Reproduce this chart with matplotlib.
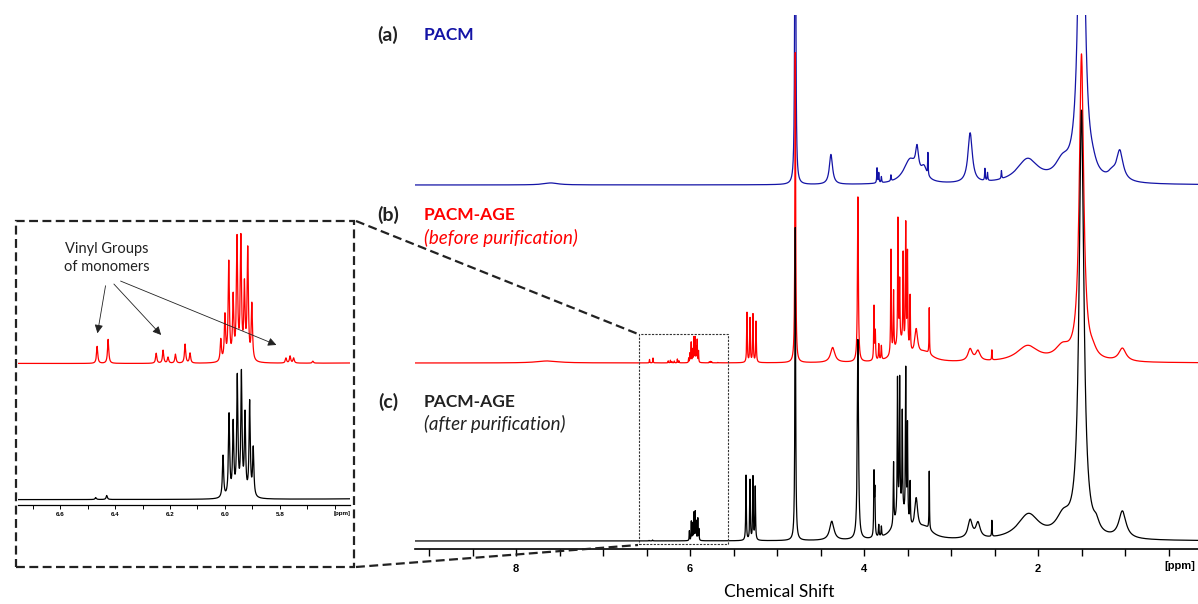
import numpy as np
import matplotlib
matplotlib.use("Agg")
import matplotlib.pyplot as plt
from matplotlib.lines import Line2D
from matplotlib.patches import Rectangle, FancyArrowPatch

W, H = 1198, 604

# ---- peak tables: ppm, height (px above baseline), half width (ppm)
# (a) PACM
A_PPM = [7.60, 4.79, 4.38, 3.85, 3.83, 3.80, 3.69, 3.47, 3.39, 3.31, 3.265, 2.78, 2.61, 2.58, 2.42,
         2.12, 1.72, 1.50, 1.37, 1.15, 1.06]
A_H = [2, 600, 30, 15, 10, 6, 6, 24, 24, 12, 22, 50, 12, 8, 8, 24, 17, 480, 6, 6, 30]
A_W = [0.10, 0.005, 0.022, 0.004, 0.004, 0.004, 0.004, 0.09, 0.02, 0.04, 0.003, 0.03, 0.004, 0.004, 0.004,
       0.15, 0.10, 0.034, 0.05, 0.05, 0.045]

# (b) PACM-AGE before purification (vinyl region comes from the inset table below)
B_PPM = [7.64, 5.345, 5.31, 5.276, 5.241, 4.79, 4.36, 4.07, 3.885, 3.87, 3.83, 3.80,
         3.69, 3.66, 3.61, 3.59, 3.55, 3.52, 3.50, 3.47, 3.58, 3.40, 3.25, 3.30,
         2.78, 2.69, 2.53, 2.12, 1.72, 1.50, 1.37, 1.03]
B_H = [2, 50, 44, 48, 41, 310, 15, 165, 54, 28, 16, 14,
       105, 60, 125, 60, 90, 122, 95, 55, 18, 26, 46, 9,
       12, 10, 10, 16, 13, 305, 6, 13]
B_W = [0.15, 0.004, 0.004, 0.004, 0.004, 0.005, 0.03, 0.006, 0.004, 0.004, 0.004, 0.004,
       0.004, 0.004, 0.004, 0.004, 0.004, 0.004, 0.004, 0.004, 0.08, 0.02, 0.003, 0.10,
       0.03, 0.03, 0.003, 0.15, 0.10, 0.03, 0.05, 0.05]

# (c) PACM-AGE after purification
C_PPM = [5.356, 5.31, 5.276, 5.25, 4.79, 4.37, 4.07, 3.885, 3.875, 3.83, 3.80,
         3.66, 3.615, 3.59, 3.56, 3.52, 3.50, 3.47, 3.58, 3.40, 3.25, 3.30,
         2.78, 2.69, 2.53, 2.11, 1.71, 1.50, 1.33, 1.03]
C_H = [65, 60, 63, 53, 313, 19, 200, 62, 44, 12, 10,
       62, 135, 130, 98, 148, 95, 42, 28, 32, 58, 11,
       18, 15, 16, 25, 19, 425, 9, 27]
C_W = [0.004, 0.004, 0.004, 0.004, 0.005, 0.03, 0.008, 0.004, 0.004, 0.004, 0.004,
       0.004, 0.004, 0.004, 0.004, 0.004, 0.004, 0.004, 0.08, 0.02, 0.003, 0.10,
       0.03, 0.03, 0.003, 0.15, 0.10, 0.033, 0.04, 0.05]

# vinyl region 6.7-5.5 ppm, heights as read in the inset (px)
VB_PPM = [6.465, 6.425, 6.25, 6.225, 6.207, 6.18, 6.145, 6.127, 6.015, 6.0, 5.986, 5.97,
          5.956, 5.942, 5.929, 5.917, 5.902, 5.778, 5.763, 5.75, 5.68]
VB_H = [17, 24, 10, 13, 6, 9, 19, 10, 22, 45, 98, 62, 120, 120, 72, 110, 56, 5, 7, 5, 2]
VC_PPM = [6.47, 6.43, 6.007, 5.985, 5.97, 5.955, 5.94, 5.927, 5.91, 5.897]
VC_H = [2, 4, 42, 82, 72, 118, 121, 80, 94, 48]
V_W = 0.0027
GAIN_B, GAIN_C = 4.9, 4.3   # inset magnification of each trace

MAIN_TICKS = [8, 6, 4, 2]
INSET_TICKS = [6.6, 6.4, 6.2, 6.0, 5.8]


def spectrum(x, ppm, h, w):
    y = np.zeros_like(x)
    ws = w if np.ndim(w) else [w] * len(ppm)
    for p, a, s in zip(ppm, h, ws):
        y += a / (1 + ((x - p) / s) ** 2)
    return y


def fx(x):
    return x / W


def fy(y):
    return 1 - y / H


plt.rcParams['font.family'] = ['Lato', 'DejaVu Sans']
fig = plt.figure(figsize=(W / 100, H / 100), dpi=100)

# ---------------- main spectrum stack
ax_top, ax_bot, ax_l = 15, 549, 415
ax = fig.add_axes([fx(ax_l), fy(ax_bot), fx(W - ax_l), (ax_bot - ax_top) / H])
x = np.arange(0.10, 9.20, 0.0004)
sa = spectrum(x, A_PPM, A_H, A_W)
sb = spectrum(x, B_PPM, B_H, B_W) + spectrum(x, VB_PPM, np.array(VB_H) / GAIN_B, V_W)
sc = spectrum(x, C_PPM, C_H, C_W) + spectrum(x, VC_PPM, np.array(VC_H) / GAIN_C, V_W)
ax.plot(x, sa + (ax_bot - 185), color="#1414a6", lw=0.9, zorder=2)
ax.plot(x, sb + (ax_bot - 363), color="#ff0000", lw=0.9, zorder=3)
ax.plot(x, sc + (ax_bot - 541), color="black", lw=0.9, zorder=4)
ax.set_xlim(9.161, 0.161)
ax.set_ylim(0, ax_bot - ax_top)
for s in ["top", "left", "right"]:
    ax.spines[s].set_visible(False)
ax.spines["bottom"].set_linewidth(1.2)
ax.set_yticks([])
ax.set_xticks(MAIN_TICKS)
ax.set_xticks(np.arange(0.5, 9.1, 0.5), minor=True)
ax.tick_params(axis="x", which="both", direction="out", length=5, width=1, pad=6)
ax.set_xticklabels([str(t) for t in MAIN_TICKS], fontsize=8, fontweight="bold",
                   family="Liberation Sans")
fig.text(fx(1180), fy(566), "[ppm]", fontsize=8, fontweight="bold", family="Liberation Sans",
         ha="center", va="center")
fig.text(fx(779), fy(592), "Chemical Shift", fontsize=12.5, ha="center", va="center")

# zoom window on the main plot
ax.add_patch(Rectangle((6.59, ax_bot - 544), 5.56 - 6.59, 544 - 334, fill=False,
                       ec="#333333", lw=0.8, ls=(0, (2, 1.2)), zorder=5))

# trace labels
bold = dict(fontsize=12.5, va="center", fontweight="bold")
paren = dict(fontsize=14, va="center", fontweight="bold", ha="center", color="#222222")
ital = dict(fontsize=13.5, va="center", style="italic")
fig.text(fx(388), fy(35), "(a)", **paren)
fig.text(fx(424), fy(35), "PACM", color="#1414a6", **bold)
fig.text(fx(388), fy(215), "(b)", **paren)
fig.text(fx(424), fy(215), "PACM-AGE", color="#ff0000", **bold)
fig.text(fx(424), fy(238), "(before purification)", color="#ff0000", **ital)
fig.text(fx(388), fy(402), "(c)", **paren)
fig.text(fx(424), fy(402), "PACM-AGE", color="#222222", **bold)
fig.text(fx(424), fy(424), "(after purification)", color="#222222", **ital)

# ---------------- inset (vinyl region)
in_top, in_bot, in_l, in_r = 225, 505, 18, 350
axi = fig.add_axes([fx(in_l), fy(in_bot), fx(in_r - in_l), (in_bot - in_top) / H])
xi = np.arange(5.50, 6.80, 0.0001)
ib = spectrum(xi, VB_PPM, VB_H, V_W) + spectrum(xi, B_PPM, np.array(B_H) * GAIN_B, B_W)
ic = spectrum(xi, VC_PPM, VC_H, V_W) + spectrum(xi, C_PPM, np.array(C_H) * GAIN_C, C_W)
axi.plot(xi, ib + (in_bot - 364), color="#ff0000", lw=0.9)
axi.plot(xi, ic + (in_bot - 500), color="black", lw=0.9)
axi.set_xlim(6.753, 5.545)
axi.set_ylim(0, in_bot - in_top)
for s in ["top", "left", "right"]:
    axi.spines[s].set_visible(False)
axi.spines["bottom"].set_linewidth(0.9)
axi.set_yticks([])
axi.set_xticks(INSET_TICKS)
axi.set_xticks(np.arange(5.6, 6.75, 0.1), minor=True)
axi.tick_params(axis="x", which="both", direction="out", length=3, width=0.7, pad=2)
axi.set_xticklabels(["%.1f" % t for t in INSET_TICKS], fontsize=4.5, fontweight="bold",
                    family="Liberation Sans")
fig.text(fx(342), fy(513), "[ppm]", fontsize=4.5, fontweight="bold", family="Liberation Sans",
         ha="center", va="center")
axi.patch.set_alpha(0)

fig.text(fx(107), fy(258), "Vinyl Groups\nof monomers", fontsize=10.5, ha="center", va="center",
         linespacing=1.35, color="#222222")
for (x0, y0), (x1, y1) in [((106, 283), (97, 336)), ((112, 282), (163, 337)),
                           ((118, 280), (279, 346))]:
    fig.add_artist(FancyArrowPatch(
        (fx(x0), fy(y0)), (fx(x1), fy(y1)), transform=fig.transFigure,
        arrowstyle="-|>,head_length=5,head_width=2.5", lw=0.6, color="#222222"))

# dashed frame around inset and connector lines
fig.add_artist(Rectangle((fx(16), fy(567)), fx(354 - 16), (567 - 221) / H, fill=False,
                         transform=fig.transFigure, ec="#222222", lw=1.6, ls=(0, (4, 2))))
fig.add_artist(Line2D([fx(356), fx(638)], [fy(221), fy(334)], transform=fig.transFigure,
                      color="#222222", lw=1.6, ls=(0, (4, 2))))
fig.add_artist(Line2D([fx(356), fx(638)], [fy(567), fy(545)], transform=fig.transFigure,
                      color="#222222", lw=1.6, ls=(0, (4, 2))))

fig.savefig("out.png", dpi=100)
